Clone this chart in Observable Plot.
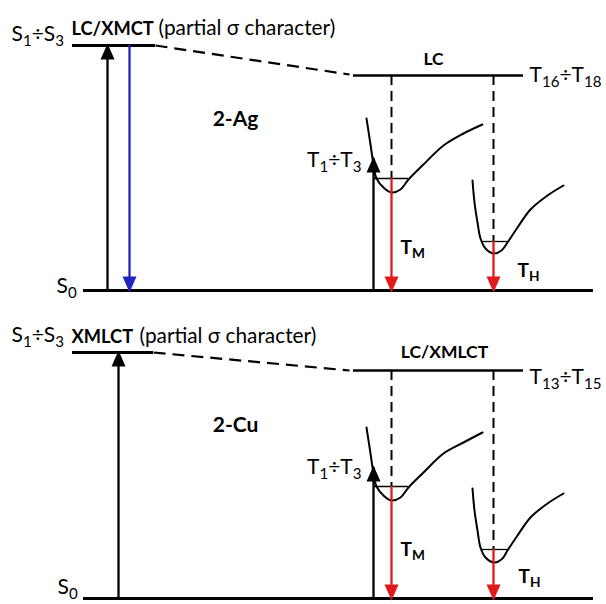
<!DOCTYPE html>
<html>
<head>
<meta charset="utf-8">
<script src="https://cdn.jsdelivr.net/npm/d3@7"></script>
<script src="https://cdn.jsdelivr.net/npm/@observablehq/plot@0.6"></script>
<style>
  html, body { margin: 0; padding: 0; background: #fff; }
  #chart { width: 606px; height: 604px; overflow: hidden; }
</style>
</head>
<body>
<div id="chart"></div>
<script>
// ---- Data (x: configuration coordinate, y: energy axis, drawn top-down) ----
const panels = ["2-Ag", "2-Cu"];

const singletLevels = [
  {panel: "2-Ag", state: "S1÷S3", x1: 72, x2: 155, y: 45},
  {panel: "2-Cu", state: "S1÷S3", x1: 72, x2: 153, y: 352}
];
const tripletLevels = [
  {panel: "2-Ag", state: "T16÷T18", x1: 353, x2: 523, y: 75},
  {panel: "2-Cu", state: "T13÷T15", x1: 353, x2: 523, y: 370}
];
const groundLevels = [
  {panel: "2-Ag", state: "S0", x1: 83, x2: 593, y: 290},
  {panel: "2-Cu", state: "S0", x1: 83, x2: 593, y: 598}
];
const connectors = [
  {panel: "2-Ag", x1: 155, y1: 45, x2: 349, y2: 74},
  {panel: "2-Cu", x1: 153, y1: 352, x2: 349, y2: 370}
];
const drops = [
  {panel: "2-Ag", x: 391, y1: 75, y2: 178},
  {panel: "2-Ag", x: 493, y1: 75, y2: 241},
  {panel: "2-Cu", x: 391, y1: 370, y2: 486},
  {panel: "2-Cu", x: 493, y1: 370, y2: 549}
];
const wells = [
  {panel: "2-Ag", x1: 374, x2: 408, y: 178},
  {panel: "2-Ag", x1: 482, x2: 507, y: 241},
  {panel: "2-Cu", x1: 374, x2: 408, y: 486},
  {panel: "2-Cu", x1: 482, x2: 507, y: 549}
];
const arrows = [
  {panel: "2-Ag", kind: "excitation", x: 107, y1: 290, y2: 45},
  {panel: "2-Ag", kind: "fluorescence", x: 129, y1: 45, y2: 290},
  {panel: "2-Ag", kind: "excitation", x: 373, y1: 290, y2: 158},
  {panel: "2-Ag", kind: "phosphorescence", x: 391, y1: 178, y2: 290},
  {panel: "2-Ag", kind: "phosphorescence", x: 493, y1: 241, y2: 290},
  {panel: "2-Cu", kind: "excitation", x: 118, y1: 598, y2: 352},
  {panel: "2-Cu", kind: "excitation", x: 373, y1: 598, y2: 467},
  {panel: "2-Cu", kind: "phosphorescence", x: 391, y1: 486, y2: 598},
  {panel: "2-Cu", kind: "phosphorescence", x: 493, y1: 549, y2: 598}
];
const kinds = ["excitation", "fluorescence", "phosphorescence"];

// potential-energy wells
const curveAgM = [[366,118],[370,144],[373,164],[376,178],[384,188],[391,192],[400,189],[408,179],[423,164],[443,145],[463,133],[482,124]];
const curveAgH = [[472,180],[474,202],[477,222],[480,238],[485,248],[493,253],[501,250],[507,242],[517,227],[530,209],[547,195],[563,185]];
const curveCuM = [[366,427],[370,453],[373,473],[376,486],[384,496],[391,500],[400,497],[408,487],[423,472],[443,453],[463,442],[482,432]];
const curveCuH = [[472,488],[474,510],[477,530],[480,547],[485,557],[494,562],[502,558],[507,550],[517,535],[530,517],[547,503],[563,493]];

// labels (_{..} = subscript)
const stateLabels = [
  {x: 11, y: 40, text: "S_{1}÷S_{3}"},
  {x: 56, y: 292, text: "S_{0}"},
  {x: 529, y: 81, text: "T_{16}÷T_{18}"},
  {x: 11, y: 341, text: "S_{1}÷S_{3}"},
  {x: 57, y: 593, text: "S_{0}"},
  {x: 529, y: 383, text: "T_{13}÷T_{15}"}
];
const t1Labels = [
  {x: 361, y: 166, text: "T_{1}÷T_{3}"},
  {x: 361, y: 473, text: "T_{1}÷T_{3}"}
];
const characterLabels = [
  {x: 71, y: 34, text: "LC/XMCT"},
  {x: 71, y: 342, text: "XMLCT"}
];
const characterNotes = [
  {x: 158, y: 34, text: "(partial σ character)"},
  {x: 139, y: 342, text: "(partial σ character)"}
];
const tripletCharacter = [
  {x: 433, y: 64, text: "LC"},
  {x: 444, y: 357, text: "LC/XMLCT"}
];
const compoundLabels = [
  {x: 235, y: 125, text: panels[0]},
  {x: 235, y: 431, text: panels[1]}
];
const emissionLabels = [
  {x: 400, y: 253, text: "T_{M}"},
  {x: 517, y: 276, text: "T_{H}"},
  {x: 400, y: 555, text: "T_{M}"},
  {x: 518, y: 582, text: "T_{H}"}
];

// ---- build ----
const curvePoints = [
  ...curveAgM.map(([x, y]) => ({curve: "Ag-M", x, y})),
  ...curveAgH.map(([x, y]) => ({curve: "Ag-H", x, y})),
  ...curveCuM.map(([x, y]) => ({curve: "Cu-M", x, y})),
  ...curveCuH.map(([x, y]) => ({curve: "Cu-H", x, y}))
];

const headDown = {draw(ctx) { ctx.moveTo(0, 2); ctx.lineTo(-7, -14); ctx.lineTo(7, -14); ctx.closePath(); }};
const headUp = {draw(ctx) { ctx.moveTo(0, -2); ctx.lineTo(-7, 14); ctx.lineTo(7, 14); ctx.closePath(); }};

const FONT = "Lato, 'Open Sans', sans-serif";

const chart = Plot.plot({
  width: 606,
  height: 604,
  margin: 0,
  x: {domain: [0, 606], axis: null},
  y: {domain: [0, 604], reverse: true, axis: null},
  color: {domain: kinds, range: ["#000000", "#2323c2", "#e11b1b"]},
  style: {fontFamily: FONT, background: "white", color: "black", overflow: "hidden"},
  marks: [
    Plot.link(connectors, {x1: "x1", y1: "y1", x2: "x2", y2: "y2", stroke: "black", strokeWidth: 2.2, strokeDasharray: "12,7"}),
    Plot.ruleX(drops, {x: "x", y1: "y1", y2: "y2", stroke: "black", strokeWidth: 2, strokeDasharray: "10,6"}),
    Plot.line(curvePoints, {x: "x", y: "y", z: "curve", curve: "catmull-rom", stroke: "black", strokeWidth: 2}),
    Plot.ruleY(wells, {y: "y", x1: "x1", x2: "x2", stroke: "black", strokeWidth: 1.3}),
    Plot.ruleY(singletLevels, {y: "y", x1: "x1", x2: "x2", stroke: "black", strokeWidth: 3}),
    Plot.ruleY(tripletLevels, {y: "y", x1: "x1", x2: "x2", stroke: "black", strokeWidth: 2.5}),
    Plot.ruleY(groundLevels, {y: "y", x1: "x1", x2: "x2", stroke: "black", strokeWidth: 3}),
    Plot.ruleX(arrows, {x: "x", y1: "y1", y2: "y2", stroke: "kind", strokeWidth: 2.3}),
    Plot.dot(arrows.filter(d => d.y2 < d.y1), {x: "x", y: "y2", fill: "kind", stroke: "none", symbol: headUp}),
    Plot.dot(arrows.filter(d => d.y2 > d.y1), {x: "x", y: "y2", fill: "kind", stroke: "none", symbol: headDown}),
    Plot.text(stateLabels, {x: "x", y: "y", text: "text", textAnchor: "start", lineAnchor: "bottom", fontSize: 21, fill: "black"}),
    Plot.text(t1Labels, {x: "x", y: "y", text: "text", textAnchor: "end", lineAnchor: "bottom", fontSize: 21, fill: "black"}),
    Plot.text(characterLabels, {x: "x", y: "y", text: "text", textAnchor: "start", lineAnchor: "bottom", fontSize: 18.3, fontWeight: "bold", fill: "black"}),
    Plot.text(characterNotes, {x: "x", y: "y", text: "text", textAnchor: "start", lineAnchor: "bottom", fontSize: 20.8, fill: "black"}),
    Plot.text(tripletCharacter, {x: "x", y: "y", text: "text", textAnchor: "middle", lineAnchor: "bottom", fontSize: 17.5, fontWeight: "bold", fill: "black"}),
    Plot.text(compoundLabels, {x: "x", y: "y", text: "text", textAnchor: "middle", lineAnchor: "bottom", fontSize: 21, fontWeight: "bold", fill: "black"}),
    Plot.text(emissionLabels, {x: "x", y: "y", text: "text", textAnchor: "start", lineAnchor: "bottom", fontSize: 19, fontWeight: "bold", fill: "black"})
  ]
});

document.getElementById("chart").appendChild(chart);

// subscripts as tspans (sizes/offsets relative to the text's own font size)
const NS = "http://www.w3.org/2000/svg";
for (const t of chart.querySelectorAll("text")) {
  const s = t.textContent;
  if (!s.includes("_{")) continue;
  const parts = [...s.matchAll(/_\{([^}]*)\}|([^_]+)/g)];
  t.textContent = "";
  let down = false;
  for (const m of parts) {
    const span = document.createElementNS(NS, "tspan");
    if (m[1] != null) {
      span.textContent = m[1];
      span.setAttribute("font-size", "72%");
      if (!down) { span.setAttribute("dy", "0.35em"); down = true; }
    } else {
      span.textContent = m[2];
      if (down) { span.setAttribute("dy", "-0.252em"); down = false; }
    }
    t.appendChild(span);
  }
}
</script>
</body>
</html>
